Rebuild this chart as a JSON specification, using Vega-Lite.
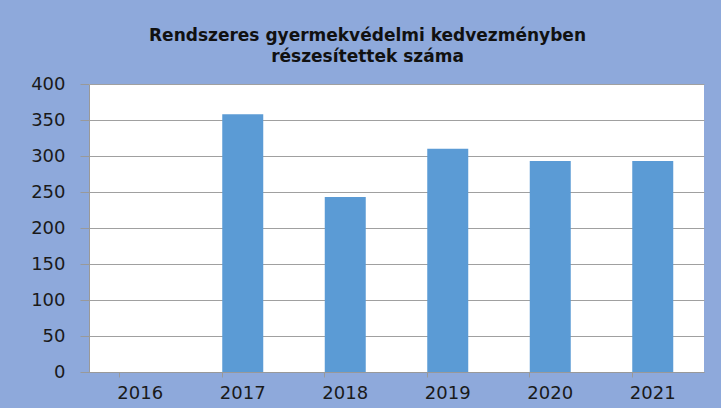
{
  "$schema": "https://vega.github.io/schema/vega-lite/v6.json",
  "width": 615,
  "height": 288,
  "autosize": {"type": "none"},
  "padding": {"left": 89, "top": 84, "right": 17, "bottom": 36},
  "background": "#8EA9DB",
  "title": {
    "text": ["Rendszeres gyermekvédelmi kedvezményben", "részesítettek száma"],
    "font": "DejaVu Sans",
    "fontSize": 17,
    "fontWeight": "bold",
    "color": "#111111",
    "anchor": "middle",
    "dx": -29,
    "offset": 9,
    "lineHeight": 21
  },
  "config": {"view": {"fill": "white", "stroke": null}},
  "data": {
    "values": [
      {"year": "2016", "value": 0},
      {"year": "2017", "value": 358},
      {"year": "2018", "value": 243},
      {"year": "2019", "value": 310},
      {"year": "2020", "value": 293},
      {"year": "2021", "value": 293}
    ]
  },
  "mark": {"type": "bar", "color": "#5B9BD5"},
  "encoding": {
    "x": {
      "field": "year",
      "type": "ordinal",
      "scale": {"paddingInner": 0.6, "paddingOuter": 0.3},
      "axis": {
        "title": null,
        "labelAngle": 0,
        "bandPosition": 0,
        "tickSize": 5,
        "tickColor": "#999999",
        "domainColor": "#999999",
        "labelFont": "DejaVu Sans",
        "labelFontSize": 18,
        "labelColor": "#1a1a1a",
        "labelPadding": 7,
        "grid": false
      }
    },
    "y": {
      "field": "value",
      "type": "quantitative",
      "scale": {"domain": [0, 400], "nice": false},
      "axis": {
        "title": null,
        "values": [0, 50, 100, 150, 200, 250, 300, 350, 400],
        "grid": true,
        "gridColor": "#A0A0A0",
        "tickSize": 9,
        "tickColor": "#999999",
        "domainColor": "#999999",
        "labelFont": "DejaVu Sans",
        "labelFontSize": 18,
        "labelColor": "#1a1a1a",
        "labelPadding": 15
      }
    }
  }
}
